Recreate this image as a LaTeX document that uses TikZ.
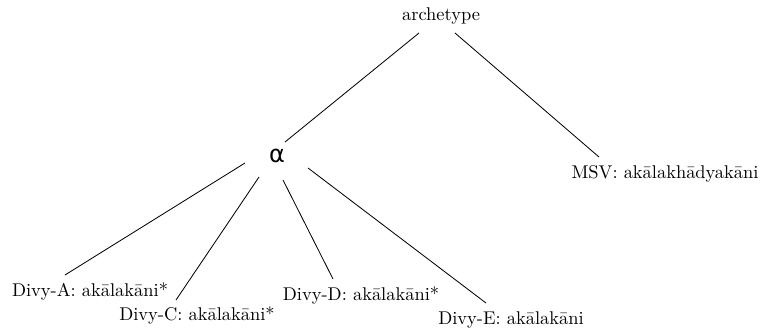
\documentclass[tikz,border=0pt]{standalone}
\usepackage{fontspec}
\newfontfamily\greekfont{DejaVu Sans}
\usetikzlibrary{calc}
\begin{document}
\begin{tikzpicture}[x=0.5425pt,y=-0.5425pt,
  lbl/.style={inner sep=0pt,font=\fontsize{10}{12}\selectfont},
  edge/.style={draw=black,line width=0.45pt}]
\useasboundingbox (0,0) rectangle (767,334);
\node[lbl] (arch) at (441,16) {archetype};
\node[lbl,font=\greekfont\fontsize{13}{15}\selectfont] (alpha) at (277,156) {α};
\node[lbl] (msv) at (665,174) {MSV: akālakhādyakāni};
\node[lbl] (a) at (90,291) {Divy-A: akālakāni*};
\node[lbl] (c) at (197,315) {Divy-C: akālakāni*};
\node[lbl] (d) at (361,295) {Divy-D: akālakāni*};
\node[lbl] (e) at (511,320) {Divy-E: akālakāni};
\draw[edge] ($(arch.center)+(-22,17)$) -- ($(alpha.center)+(8,-14)$);
\draw[edge] ($(arch.center)+(14,17)$) -- ($(msv.center)+(-66,-17)$);
\draw[edge] ($(alpha.center)+(-32,7)$) -- ($(a.center)+(-25,-16)$);
\draw[edge] ($(alpha.center)+(-18,21)$) -- ($(c.center)+(-21,-15)$);
\draw[edge] ($(alpha.center)+(6,24)$) -- ($(d.center)+(-28,-16)$);
\draw[edge] ($(alpha.center)+(31,12)$) -- ($(e.center)+(-25,-17)$);
\end{tikzpicture}
\end{document}
